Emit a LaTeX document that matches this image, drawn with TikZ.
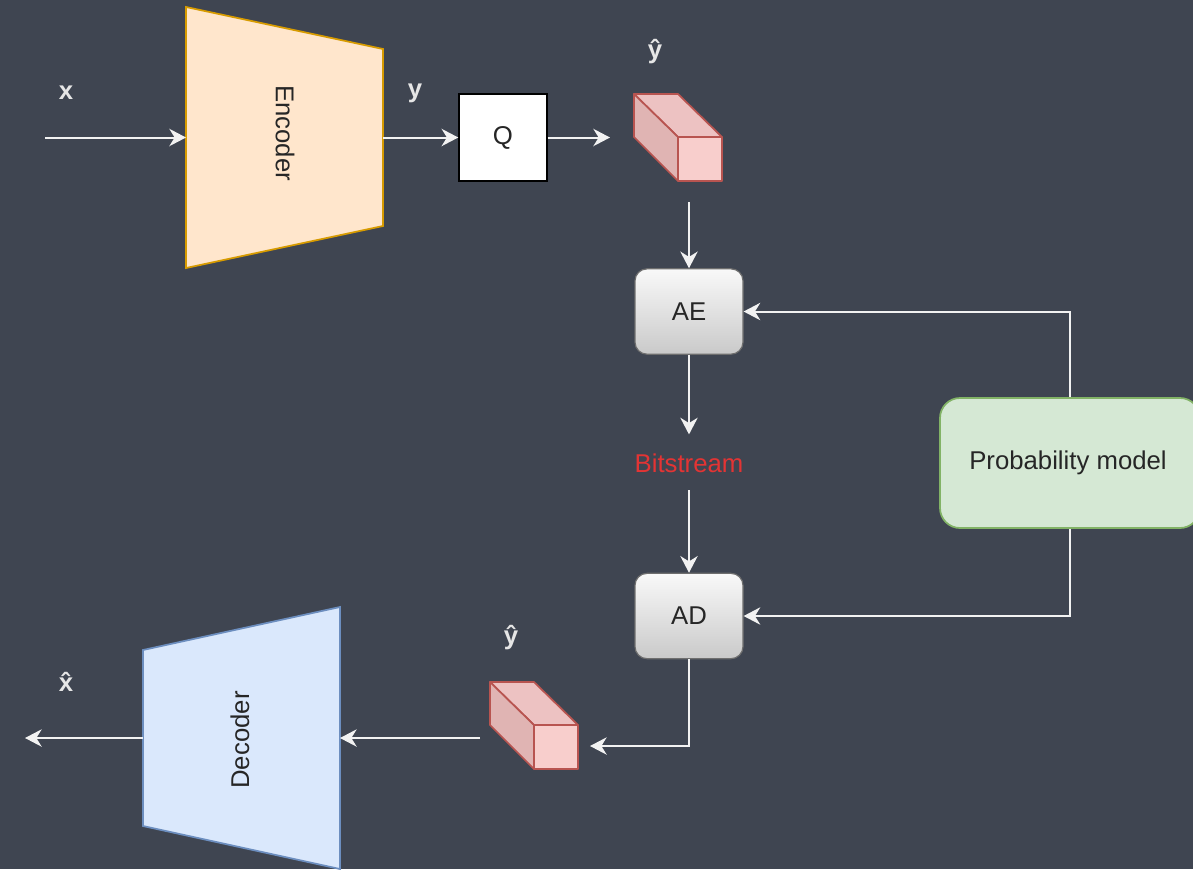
\documentclass[tikz,border=0pt]{standalone}
\usepackage{fontspec}
\setmainfont{Liberation Sans}
\usetikzlibrary{arrows.meta,calc}

\definecolor{bgc}{HTML}{3F4551}
\definecolor{labelc}{HTML}{E6E6E6}
\definecolor{wirec}{HTML}{F2F2F2}
\definecolor{encfill}{HTML}{FFE6CC}
\definecolor{encline}{HTML}{D79B00}
\definecolor{decfill}{HTML}{DAE8FC}
\definecolor{decline}{HTML}{6C8EBF}
\definecolor{cubefront}{HTML}{F8CECC}
\definecolor{cubetop}{HTML}{EDC2C2}
\definecolor{cubeside}{HTML}{E0B4B3}
\definecolor{cubeline}{HTML}{B85450}
\definecolor{probfill}{HTML}{D5E8D4}
\definecolor{probline}{HTML}{82B366}
\definecolor{coderline}{HTML}{6E6E6E}
\definecolor{bitred}{HTML}{E33434}

% three-face block drawn inside the box of node #1
\newcommand{\drawcuboid}[1]{%
  \coordinate (#1-a) at (#1.north west);
  \coordinate (#1-b) at ($(#1.north west)+(44,0)$);
  \coordinate (#1-c) at ($(#1.north east)+(0,43)$);
  \coordinate (#1-d) at ($(#1.north west)+(44,43)$);
  \coordinate (#1-e) at (#1.south east);
  \coordinate (#1-f) at ($(#1.south east)+(-44,0)$);
  \coordinate (#1-g) at ($(#1.north west)+(0,43)$);
  \filldraw[cubeedge, fill=cubetop] (#1-a) -- (#1-b) -- (#1-c) -- (#1-d) -- cycle;
  \filldraw[cubeedge, fill=cubeside] (#1-a) -- (#1-d) -- (#1-f) -- (#1-g) -- cycle;
  \filldraw[cubeedge, fill=cubefront] (#1-d) -- (#1-c) -- (#1-e) -- (#1-f) -- cycle;
}

\begin{document}
\begin{tikzpicture}[x=0.75pt, y=-0.75pt,
  every node/.style={font=\fontsize{19.3}{23}\selectfont},
  wire/.style={draw=wirec, line width=1.5pt},
  arr/.style={wire, -{Stealth[length=12.5pt, width=13pt, inset=4pt]}},
  lbl/.style={text=labelc, font=\fontsize{19.3}{23}\selectfont\bfseries},
  holder/.style={inner sep=0pt, outer sep=0pt},
  cubeedge/.style={draw=cubeline, line width=1.3pt, line join=round},
  coderbox/.style={draw=coderline, line width=0.9pt, rounded corners=9pt,
    top color=white!95!gray, bottom color=gray!42, text=black!85,
    minimum width=81pt, minimum height=64pt, inner sep=0pt},
]
\fill[bgc] (0,0) rectangle (1193,869);
\useasboundingbox (0,0) rectangle (1193,869);

% encoder
\node[holder, minimum width=147.75pt, minimum height=195.75pt] (enc) at (284.5,137.5) {};
\filldraw[fill=encfill, draw=encline, line width=1.3pt]
  (enc.north west) -- ($(enc.north east)+(0,42)$) -- ($(enc.south east)+(0,-42)$)
  -- (enc.south west) -- cycle;
\node[rotate=-90, text=black!85] (enctxt) at (285,133) {Encoder};

% decoder
\node[holder, minimum width=147.75pt, minimum height=196.5pt] (dec) at (241.5,738) {};
\filldraw[fill=decfill, draw=decline, line width=1.3pt]
  ($(dec.north west)+(0,43)$) -- (dec.north east) -- (dec.south east)
  -- ($(dec.south west)+(0,-43)$) -- cycle;
\node[rotate=90, text=black!85] (dectxt) at (240,740) {Decoder};

% quantiser
\node[draw=black, fill=white, line width=1.1pt, minimum width=66pt, minimum height=65.25pt,
  inner sep=0pt, text=black!85] (Q) at (503,137.5) {Q};

% latent blocks
\node[holder, minimum width=66pt, minimum height=65.25pt] (cubeA) at (678,137.5) {};
\drawcuboid{cubeA}
\node[holder, minimum width=66pt, minimum height=65.25pt] (cubeB) at (534,725.5) {};
\drawcuboid{cubeB}

% arithmetic coder blocks
\node[coderbox] (AE) at (689,311.5) {AE};
\node[coderbox] (AD) at (689,616) {AD};
\node[text=bitred, minimum height=40.5pt, inner sep=0pt] (bits) at (689,463) {Bitstream};

% probability model
\node[draw=probline, fill=probfill, line width=1.3pt, rounded corners=15pt,
  minimum width=195pt, minimum height=97.5pt, inner sep=0pt, text=black!85]
  (prob) at (1070,463) {};
\node[text=black!85] (probtxt) at (1068,463) {Probability model};

% labels
\node[lbl] (lx) at (66,93) {x};
\node[lbl] (ly) at (415,93) {y};
\node[lbl] (lyh) at (655,52) {ŷ};
\node[lbl] (lyh2) at (511,638) {ŷ};
\node[lbl] (lxh) at (66,682) {\^{x}};

% free ends
\coordinate (xin) at (45,137.5);
\coordinate (xout) at (25,738);
\coordinate (c2in) at (590,746);

% connectors
\draw[arr] (xin) -- (enc.west);
\draw[arr] (enc.east) -- (Q.west);
\draw[arr, shorten >=18pt] (Q.east) -- (cubeA.west);
\draw[arr, shorten <=16pt] (AE.north |- cubeA.south) -- (AE.north);
\draw[arr, shorten >=1pt] (AE.south) -- (bits.north);
\draw[arr] (bits.south) -- (AD.north);
\draw[arr] (prob.north) |- (AE.east);
\draw[arr] (prob.south) |- (AD.east);
\draw[arr] (AD.south) |- (c2in);
\draw[arr, shorten <=7.5pt] (dec.east -| cubeB.west) -- (dec.east);
\draw[arr] (dec.west) -- (xout);
\end{tikzpicture}
\end{document}
